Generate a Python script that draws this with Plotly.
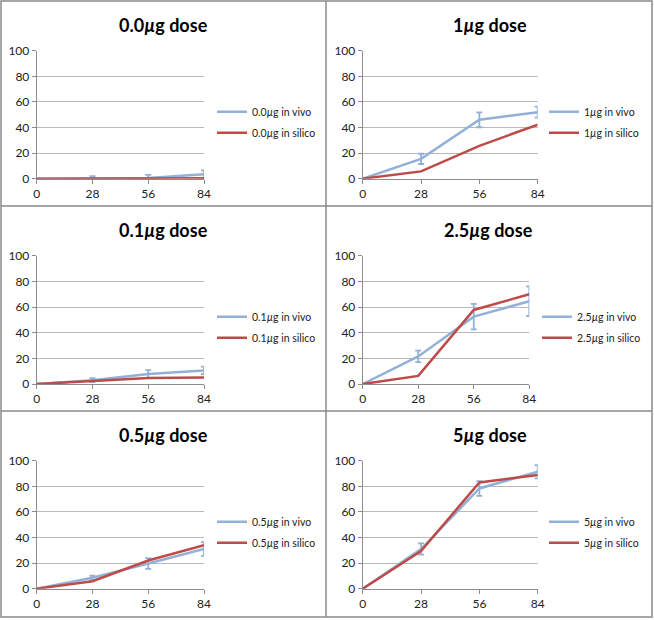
import plotly.graph_objects as go

W, H = 654, 620

# ---------------------------------------------------------------------------
# Data (percent response vs day)
# ---------------------------------------------------------------------------
days = [0, 28, 56, 84]
dose_labels = ["0.0", "1", "0.1", "2.5", "0.5", "5"]

vivo_00 = [0, 0.5, 0.5, 3.5]
err_00 = [0, 1.5, 2.5, 3.0]
silico_00 = [0, 0, 0, 0.3]

vivo_1 = [0, 15.5, 46, 52]
err_1 = [0, 4.0, 5.8, 4.3]
silico_1 = [0, 5.7, 25.7, 42.2]

vivo_01 = [0, 3.0, 7.8, 10.6]
err_01 = [0, 1.5, 3.0, 3.0]
silico_01 = [0, 2.1, 4.6, 5.0]

vivo_25 = [0, 21.5, 52.5, 64.5]
err_25 = [0, 4.5, 10.0, 11.5]
silico_25 = [0, 6.3, 57.7, 70.0]

vivo_05 = [0, 8.5, 19.7, 31.0]
err_05 = [0, 1.6, 4.2, 5.4]
silico_05 = [0, 5.8, 22.0, 34.0]

vivo_5 = [0, 31.0, 78.3, 91.4]
err_5 = [0, 4.4, 5.8, 5.2]
silico_5 = [0, 29.5, 83.0, 88.8]

vivo_all = [vivo_00, vivo_1, vivo_01, vivo_25, vivo_05, vivo_5]
err_all = [err_00, err_1, err_01, err_25, err_05, err_5]
silico_all = [silico_00, silico_1, silico_01, silico_25, silico_05, silico_5]

# ---------------------------------------------------------------------------
# Layout geometry (pixels)
# ---------------------------------------------------------------------------
BLUE = "#93b1d8"
RED = "#be4b48"
FONT = "Lato"


def px_x(v):
    return v / W


def px_y(v):
    return 1 - v / H


# plot boxes: (left, right, top, bottom), legend text start x, title center x
panels = [
    (36.7, 204.0, 50.7, 178.7, 252, 163),
    (362.7, 537.7, 50.7, 178.7, 584, 490),
    (36.7, 204.0, 255.7, 384.0, 252, 163),
    (362.7, 529.3, 255.7, 384.0, 577, 488),
    (36.7, 204.0, 460.7, 588.7, 252, 163),
    (362.7, 537.7, 460.7, 588.7, 584, 490),
]

fig = go.Figure()
layout = dict(
    width=W, height=H,
    margin=dict(l=0, r=0, t=0, b=0, autoexpand=False),
    paper_bgcolor="white",
    plot_bgcolor="white",
    font=dict(family=FONT, color="#222222", size=11),
    annotations=[],
    shapes=[],
)

for i, (dose, vivo, err, silico) in enumerate(zip(dose_labels, vivo_all, err_all, silico_all)):
    n = i + 1
    sfx = "" if n == 1 else str(n)
    leg = "legend" if n == 1 else f"legend{n}"
    left, right, top, bottom, text_x, title_x = panels[i]

    fig.add_trace(go.Scatter(
        x=days, y=vivo, mode="lines",
        name=f"{dose}<i>µ</i>g in vivo",
        line=dict(color=BLUE, width=2.5),
        error_y=dict(type="data", array=err, visible=True,
                     color=BLUE, thickness=1.8, width=3),
        xaxis=f"x{sfx}", yaxis=f"y{sfx}", legend=leg,
        legendgroup=f"vivo{n}",
    ))
    fig.add_trace(go.Scatter(
        x=days, y=silico, mode="lines",
        name=f"{dose}<i>µ</i>g in silico",
        line=dict(color=RED, width=2.5),
        xaxis=f"x{sfx}", yaxis=f"y{sfx}", legend=leg,
        legendgroup=f"silico{n}",
    ))

    layout[f"xaxis{sfx}"] = dict(
        domain=[px_x(left), px_x(right)], anchor=f"y{sfx}",
        range=[0, 84], tickvals=days, showgrid=False, zeroline=False,
        showline=True, linecolor="#8c8c8c", linewidth=1,
        ticks="outside", ticklen=4, tickcolor="#8c8c8c",
        tickfont=dict(size=12, color="#222222"), automargin=False,
    )
    layout[f"yaxis{sfx}"] = dict(
        domain=[px_y(bottom), px_y(top)], anchor=f"x{sfx}",
        range=[0, 100], dtick=20, showgrid=True, gridcolor="#b9b9b9",
        zeroline=False, showline=True, linecolor="#8c8c8c", linewidth=1,
        ticks="outside", ticklen=4, tickcolor="#8c8c8c",
        tickfont=dict(size=12, color="#222222"), automargin=False,
    )
    layout[leg] = dict(
        x=px_x(text_x - 40), xanchor="left",
        y=px_y(top + 71.5), yanchor="middle",
        bgcolor="rgba(0,0,0,0)", borderwidth=0,
        font=dict(family=FONT, size=10.5, color="#222222"),
        traceorder="grouped", tracegroupgap=2,
    )
    layout["annotations"].append(dict(
        text=f"<b>{dose}<i>µ</i>g dose</b>",
        x=px_x(title_x), y=px_y(top - 26),
        xref="paper", yref="paper", xanchor="center", yanchor="middle",
        showarrow=False, font=dict(family=FONT, size=18, color="#000000"),
    ))

# panel borders
border = dict(type="line", xref="paper", yref="paper",
              line=dict(color="#8a8a8a", width=1.5))
layout["shapes"] = [
    dict(type="rect", xref="paper", yref="paper",
         x0=px_x(1), x1=px_x(652), y0=px_y(617), y1=px_y(1),
         line=dict(color="#8a8a8a", width=1.5)),
    dict(border, x0=px_x(326), x1=px_x(326), y0=px_y(617), y1=px_y(1)),
    dict(border, x0=px_x(1), x1=px_x(652), y0=px_y(206), y1=px_y(206)),
    dict(border, x0=px_x(1), x1=px_x(652), y0=px_y(411), y1=px_y(411)),
]

fig.update_layout(**layout)

# drop the default page margin so the chart sits at the top-left corner
pin = (
    "document.documentElement.style.margin='0';"
    "document.documentElement.style.overflow='hidden';"
    "document.body.style.margin='0';"
    "document.body.style.overflow='hidden';"
)
fig.write_html("out.html", post_script=pin,
               config={"displayModeBar": False})
